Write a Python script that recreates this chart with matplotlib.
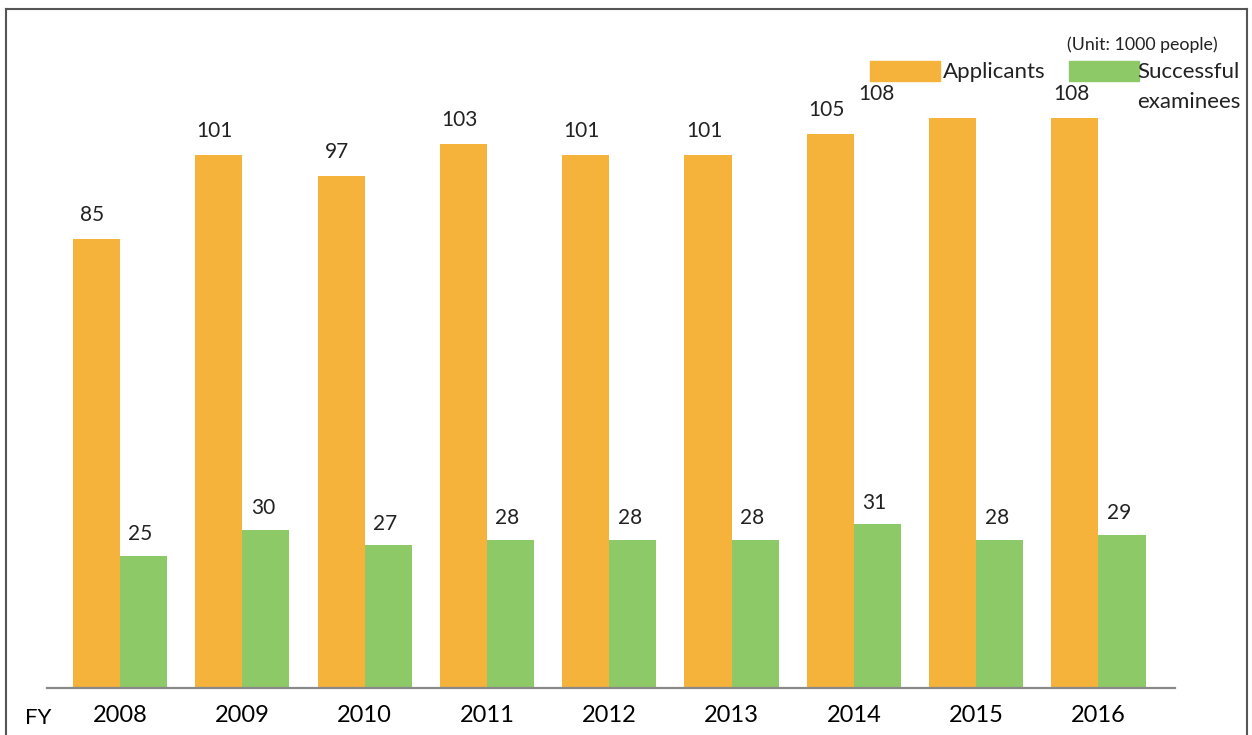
import matplotlib.pyplot as plt
from matplotlib.lines import Line2D
from matplotlib.patches import Rectangle
import numpy as np

plt.rcParams['font.family'] = ['Lato', 'DejaVu Sans']

years = ['2008', '2009', '2010', '2011', '2012', '2013', '2014', '2015', '2016']
applicants = [85, 101, 97, 103, 101, 101, 105, 108, 108]
successful = [25, 30, 27, 28, 28, 28, 31, 28, 29]

orange = '#F5B33B'
green = '#8DC966'
txt = '#222222'

W, H = 1252, 735
fig = plt.figure(figsize=(W / 100, H / 100), dpi=100)
ax = fig.add_axes([47 / W, 47 / H, 1128 / W, 679 / H])

x = np.arange(len(years))
w = 0.385
ax.bar(x - w / 2, applicants, w, color=orange)
ax.bar(x + w / 2, successful, w, color=green)

# value labels (the 2015 applicants label sits off to the left in the original)
for i in range(len(years)):
    dx = -4 if i != 7 else -76
    ax.annotate(str(applicants[i]), (x[i] - w / 2, applicants[i]),
                xytext=(dx * 0.72, 10), textcoords='offset points',
                ha='center', va='bottom', fontsize=15, color=txt)
    ax.annotate(str(successful[i]), (x[i] + w / 2, successful[i]),
                xytext=(-3 * 0.72, 8.5), textcoords='offset points',
                ha='center', va='bottom', fontsize=15, color=txt)

ax.set_xlim(-0.597, 8.626)
ax.set_ylim(0, 128.6)
ax.set_xticks(x)
ax.set_xticklabels(years, fontsize=17)
ax.tick_params(axis='x', length=0, pad=12)
ax.set_yticks([])
for s in ['top', 'left', 'right']:
    ax.spines[s].set_visible(False)
ax.spines['bottom'].set_color('#898989')
ax.spines['bottom'].set_linewidth(1.6)

fig.text(25 / W, 1 - 718 / H, 'FY', fontsize=16, va='center', ha='left')

# legend
fig.add_artist(Rectangle((870 / W, 1 - 81 / H), 70 / W, 20 / H,
                         transform=fig.transFigure, color=orange))
fig.add_artist(Rectangle((1069 / W, 1 - 81 / H), 70 / W, 20 / H,
                         transform=fig.transFigure, color=green))
fig.text(943 / W, 1 - 72 / H, 'Applicants', fontsize=16, va='center', color=txt)
fig.text(1137 / W, 1 - 72 / H, 'Successful', fontsize=16, va='center', color=txt)
fig.text(1137 / W, 1 - 102 / H, 'examinees', fontsize=16, va='center', color=txt)
fig.text(1067 / W, 1 - 45 / H, '(Unit: 1000 people)', fontsize=12.8, va='center', color=txt)

# frame around the picture
for xs, ys in [([6, 1247], [9, 9]), ([6, 6], [9, 735]), ([1247, 1247], [9, 735])]:
    fig.add_artist(Line2D([v / W for v in xs], [1 - v / H for v in ys],
                          transform=fig.transFigure, color='#555555', lw=1.5))

fig.savefig('out.png', dpi=100)
